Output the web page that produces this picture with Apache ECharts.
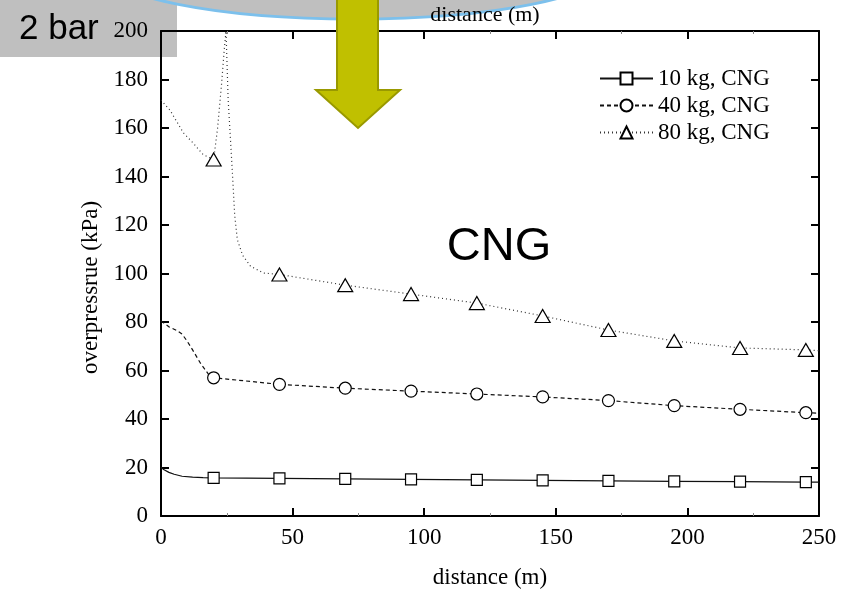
<!DOCTYPE html>
<html>
<head>
<meta charset="utf-8">
<script src="https://cdn.jsdelivr.net/npm/echarts@6/dist/echarts.min.js"></script>
<style>
html,body{margin:0;padding:0;background:#fff;}
#chart{width:841px;height:590px;}
</style>
</head>
<body>
<div id="chart"></div>
<script>
// ---- data ----
const seriesNames = ['10 kg, CNG', '40 kg, CNG', '80 kg, CNG'];
const markerDistances = [20, 45, 70, 95, 120, 145, 170, 195, 220, 245];

const dist10 = [0, 1, 3, 5, 8, 12, 16, 20, 45, 70, 95, 120, 145, 170, 195, 220, 245, 250];
const kpa10  = [20.2, 19.2, 18.0, 17.2, 16.4, 16.0, 15.8, 15.7, 15.5, 15.3, 15.1, 14.9, 14.7, 14.5, 14.3, 14.2, 14.0, 14.0];

const dist40 = [0, 3, 6, 8, 10, 12, 15, 18, 20, 45, 70, 95, 120, 145, 170, 195, 220, 245, 250];
const kpa40  = [80.5, 78, 76.5, 75, 72, 68.5, 63, 58.5, 57, 54.3, 52.7, 51.5, 50.3, 49.1, 47.6, 45.5, 44.0, 42.6, 42.4];

const dist80 = [0, 3.4, 8.5, 12.3, 16, 20, 21.5, 23, 24, 24.7, 25.5, 27, 28, 29, 31, 34, 39, 45, 70, 95, 120, 145, 170, 195, 220, 245, 250];
const kpa80  = [171.5, 167.4, 158, 153.7, 149, 147, 160, 178, 192, 200, 172, 144, 124, 114, 107.5, 103, 100.2, 99.6, 95.2, 91.5, 87.8, 82.5, 76.7, 72.2, 69.3, 68.5, 68.2];

const xTicks = [0, 50, 100, 150, 200, 250];
const yTicks = [0, 20, 40, 60, 80, 100, 120, 140, 160, 180, 200];

// ---- build ----
function build(dist, kpa) {
  return dist.map((d, i) => {
    const item = { value: [d, kpa[i]] };
    if (markerDistances.indexOf(d) < 0) item.symbol = 'none';
    return item;
  });
}

const serif = '"Liberation Serif", "Times New Roman", serif';
const sans = '"Liberation Sans", Arial, sans-serif';

const chart = echarts.init(document.getElementById('chart'), null, { renderer: 'canvas' });

const commonX = {
  type: 'value',
  min: xTicks[0],
  max: xTicks[xTicks.length - 1],
  interval: xTicks[1] - xTicks[0],
  splitLine: { show: false },
  axisLine: { show: true, onZero: false, lineStyle: { color: '#000', width: 2 } },
  axisTick: { show: true, inside: true, length: 8, lineStyle: { color: '#000', width: 2 } },
  minorTick: { show: true, splitNumber: 2, length: 3, lineStyle: { color: '#888', width: 1 } }
};
const commonY = {
  type: 'value',
  min: yTicks[0],
  max: yTicks[yTicks.length - 1],
  interval: yTicks[1] - yTicks[0],
  splitLine: { show: false },
  axisLine: { show: true, onZero: false, lineStyle: { color: '#000', width: 2 } },
  axisTick: { show: true, inside: true, length: 8, lineStyle: { color: '#000', width: 2 } }
};

const option = {
  backgroundColor: '#fff',
  animation: false,
  grid: { left: 161, right: 22, top: 31, bottom: 74, containLabel: false, outerBoundsMode: 'none' },
  legend: {
    orient: 'vertical',
    left: 599,
    top: 67,
    padding: 0,
    itemWidth: 53,
    itemHeight: 15,
    itemGap: 4,
    textStyle: { fontFamily: serif, fontSize: 23, color: '#000', lineHeight: 23 },
    data: seriesNames
  },
  xAxis: [
    Object.assign({}, commonX, {
      position: 'bottom',
      name: 'distance (m)',
      nameLocation: 'middle',
      nameGap: 50,
      nameTextStyle: { fontFamily: serif, fontSize: 23, color: '#000' },
      axisLabel: { show: true, margin: 10, fontFamily: serif, fontSize: 23, color: '#000' }
    }),
    Object.assign({}, commonX, {
      position: 'top',
      name: 'distance (m)',
      nameLocation: 'middle',
      nameGap: 5,
      nameTextStyle: { fontFamily: serif, fontSize: 22, color: '#000', padding: [0, 10, 0, 0] },
      axisLabel: { show: false }
    })
  ],
  yAxis: [
    Object.assign({}, commonY, {
      position: 'left',
      name: 'overpressrue (kPa)',
      nameLocation: 'middle',
      nameGap: 58,
      nameRotate: 90,
      nameTextStyle: { fontFamily: serif, fontSize: 23, color: '#000', padding: [0, 28, 0, 0] },
      axisLabel: { show: true, margin: 13, fontFamily: serif, fontSize: 23, color: '#000' }
    }),
    Object.assign({}, commonY, {
      position: 'right',
      axisLabel: { show: false }
    })
  ],
  series: [
    {
      name: seriesNames[0], type: 'line', xAxisIndex: 0, yAxisIndex: 0,
      data: build(dist10, kpa10),
      showAllSymbol: true, symbol: 'rect', symbolSize: 11,
      itemStyle: { color: '#fff', borderColor: '#000', borderWidth: 1.2 },
      lineStyle: { color: '#111', width: 1.2, type: 'solid' },
      z: 3
    },
    {
      name: seriesNames[1], type: 'line', xAxisIndex: 0, yAxisIndex: 0,
      data: build(dist40, kpa40),
      showAllSymbol: true, symbol: 'circle', symbolSize: 12,
      itemStyle: { color: '#fff', borderColor: '#000', borderWidth: 1.2 },
      lineStyle: { color: '#111', width: 1.2, type: [4, 3] },
      z: 3
    },
    {
      name: seriesNames[2], type: 'line', xAxisIndex: 0, yAxisIndex: 0,
      data: build(dist80, kpa80),
      showAllSymbol: true, symbol: 'triangle', symbolSize: [15, 13],
      itemStyle: { color: '#fff', borderColor: '#000', borderWidth: 1.2 },
      lineStyle: { color: '#333', width: 1.2, type: [1, 3] },
      z: 3
    }
  ],
  graphic: [
    {
      type: 'rect', left: 0, top: 0, z: -10,
      shape: { x: 0, y: 0, width: 177, height: 57 },
      style: { fill: '#bfbfbf' }
    },
    {
      type: 'text', z: 50,
      style: { x: 19, y: 29, text: '2 bar', fontFamily: sans, fontSize: 35, fill: '#000', textVerticalAlign: 'middle' }
    },
    {
      type: 'ellipse', z: -5,
      shape: { cx: 355, cy: -31, rx: 250, ry: 50 },
      style: { fill: '#bfbfbf', stroke: '#7cc0ec', lineWidth: 3 }
    },
    {
      type: 'polygon', z: 100,
      shape: { points: [[337, -2], [378, -2], [378, 90], [400, 90], [358, 128], [316, 90], [337, 90]] },
      style: { fill: '#c0c000', stroke: '#999900', lineWidth: 2 }
    },
    {
      type: 'text', z: 50,
      style: { x: 499, y: 247, text: 'CNG', fontFamily: sans, fontSize: 47, fill: '#000', textAlign: 'center', textVerticalAlign: 'middle' }
    }
  ]
};

chart.setOption(option);
</script>
</body>
</html>
